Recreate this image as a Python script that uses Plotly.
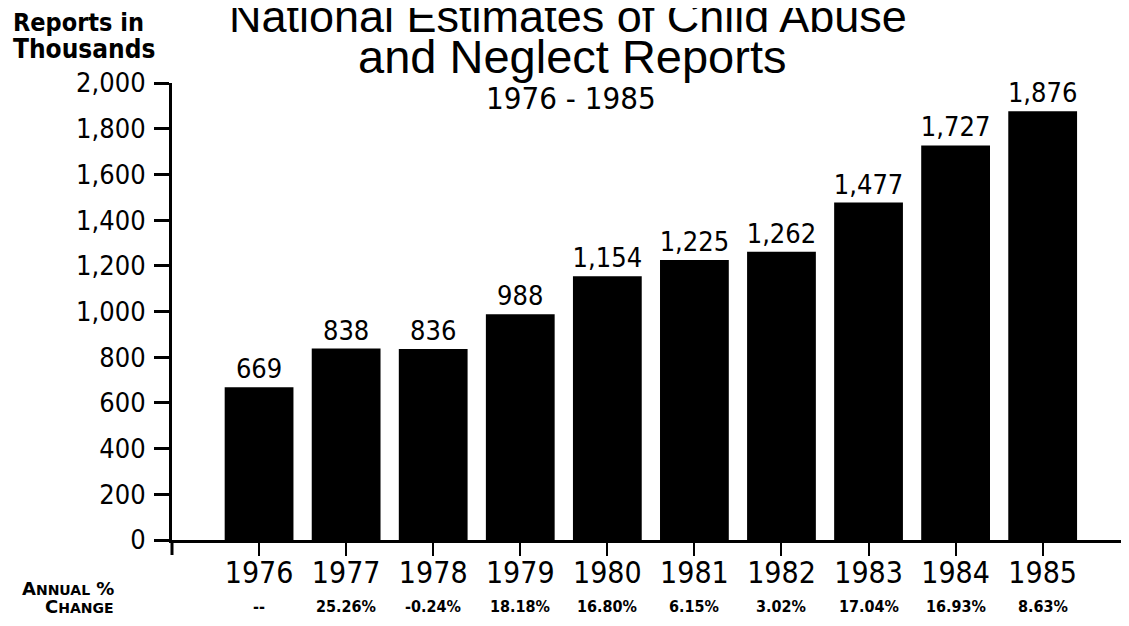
import plotly.graph_objects as go

years = ["1976", "1977", "1978", "1979", "1980", "1981", "1982", "1983", "1984", "1985"]
reports = [669, 838, 836, 988, 1154, 1225, 1262, 1477, 1727, 1876]
pct_change = ["--", "25.26%", "-0.24%", "18.18%", "16.80%", "6.15%", "3.02%", "17.04%", "16.93%", "8.63%"]
y_ticks = [0, 200, 400, 600, 800, 1000, 1200, 1400, 1600, 1800, 2000]
y_tick_labels = ["0", "200", "400", "600", "800", "1,000", "1,200", "1,400", "1,600", "1,800", "2,000"]

NARROW = "Liberation Sans Narrow, DejaVu Sans Condensed, Roboto Condensed, Liberation Sans, sans-serif"
TITLEF = "Liberation Sans, DejaVu Sans, sans-serif"

OFF = 8  # default page body margin
W, H = 1129, 626
# desired screen positions of plot area
SX0, SX1, SY0, SY1 = 172, 1128, 83, 540
L = SX0 - OFF
R = W - (SX1 - OFF)
T = SY0 - OFF
B = H - (SY1 - OFF)


def px(xs):
    return (xs - SX0) / (SX1 - SX0)


def py(ys):
    return (SY1 - ys) / (SY1 - SY0)


fig = go.Figure()
fig.add_trace(go.Bar(
    x=years, y=reports,
    text=[f"{v:,}" for v in reports],
    textposition="outside",
    textfont=dict(family=NARROW, size=27, color="black"),
    cliponaxis=False,
    constraintext="none",
    marker=dict(color="black", line=dict(width=0)),
    width=0.79,
    hoverinfo="skip",
))

for i, p in enumerate(pct_change):
    fig.add_annotation(x=i, y=py(606), xref="x", yref="paper", text=p, showarrow=False,
                       font=dict(family=NARROW, size=16, color="black", weight="bold"),
                       xanchor="center", yanchor="middle")

fig.add_annotation(x=px(116), y=py(588), xref="paper", yref="paper",
                   text="A<span style='font-size:14px'>NNUAL</span> %", showarrow=False,
                   font=dict(family="DejaVu Sans, sans-serif", size=18, color="black", weight="bold"),
                   xanchor="right", yanchor="middle")
fig.add_annotation(x=px(116), y=py(606), xref="paper", yref="paper",
                   text="C<span style='font-size:14px'>HANGE</span>", showarrow=False,
                   font=dict(family="DejaVu Sans, sans-serif", size=18, color="black", weight="bold"),
                   xanchor="right", yanchor="middle")

fig.add_annotation(x=px(11), y=py(22), xref="paper", yref="paper",
                   text="Reports in", showarrow=False,
                   font=dict(family="DejaVu Sans Condensed, DejaVu Sans, sans-serif", size=25, color="black", weight="bold"),
                   xanchor="left", yanchor="middle")
fig.add_annotation(x=px(11), y=py(49), xref="paper", yref="paper",
                   text="Thousands", showarrow=False,
                   font=dict(family="DejaVu Sans Condensed, DejaVu Sans, sans-serif", size=26, color="black", weight="bold"),
                   xanchor="left", yanchor="middle")

fig.add_annotation(x=px(568), y=py(16), xref="paper", yref="paper",
                   text="National Estimates of Child Abuse", showarrow=False,
                   font=dict(family=TITLEF, size=45, color="black"),
                   xanchor="center", yanchor="middle")
fig.add_annotation(x=px(572), y=py(57), xref="paper", yref="paper",
                   text="and Neglect Reports", showarrow=False,
                   font=dict(family=TITLEF, size=47, color="black"),
                   xanchor="center", yanchor="middle")
fig.add_annotation(x=px(571), y=py(98), xref="paper", yref="paper",
                   text="1976 - 1985", showarrow=False,
                   font=dict(family=NARROW, size=31, color="black"),
                   xanchor="center", yanchor="middle")

# axis extension below baseline and right-end tick
fig.add_shape(type="line", xref="paper", yref="paper", x0=0, x1=0, y0=0, y1=py(555),
              line=dict(color="black", width=3))
fig.add_shape(type="line", xref="paper", yref="paper", x0=1, x1=1, y0=0, y1=py(552),
              line=dict(color="black", width=3))

fig.update_layout(
    width=W, height=H,
    margin=dict(l=L, r=R, t=T, b=B, pad=0),
    paper_bgcolor="white", plot_bgcolor="white",
    showlegend=False,
    xaxis=dict(
        type="category", range=[-1.0, 9.98],
        showline=True, linecolor="black", linewidth=3,
        ticks="outside", ticklen=13, tickwidth=2, tickcolor="black",
        tickfont=dict(family=NARROW, size=30, color="black"),
        ticklabelstandoff=-9,
        showgrid=False, zeroline=False, fixedrange=True,
    ),
    yaxis=dict(
        range=[0, 2000],
        tickvals=y_ticks, ticktext=y_tick_labels,
        showline=True, linecolor="black", linewidth=3,
        ticks="outside", ticklen=15, tickwidth=3, tickcolor="black",
        tickfont=dict(family=NARROW, size=27, color="black"),
        ticklabelstandoff=3,
        showgrid=False, zeroline=False, fixedrange=True,
    ),
)

fig.write_html("out.html")
